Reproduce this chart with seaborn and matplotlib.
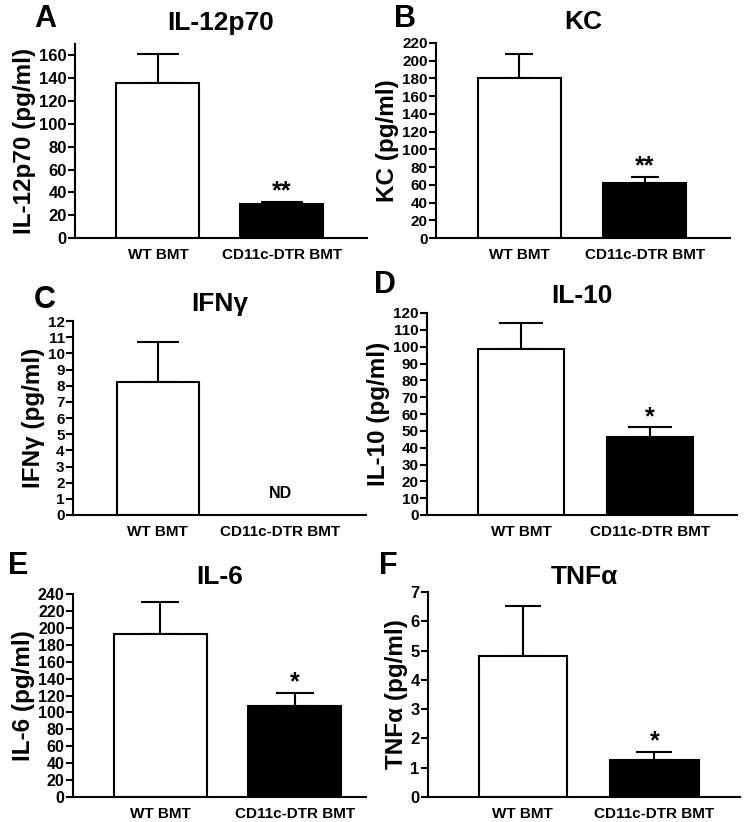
import matplotlib
matplotlib.use("Agg")
import matplotlib.pyplot as plt
import seaborn as sns

sns.set_style("ticks")
plt.rcParams["font.family"] = ["Liberation Sans", "DejaVu Sans"]
plt.rcParams["font.weight"] = "bold"
plt.rcParams["axes.labelweight"] = "bold"
plt.rcParams["axes.titleweight"] = "bold"
for key in ["text.color", "axes.labelcolor", "xtick.color", "ytick.color",
            "axes.edgecolor"]:
    plt.rcParams[key] = "black"

# ---- data (mean and SEM) ----
groups = ["WT BMT", "CD11c-DTR BMT"]
titles = ["IL-12p70", "KC", "IFNγ", "IL-10", "IL-6", "TNFα"]
ylabels = ["IL-12p70 (pg/ml)", "KC (pg/ml)", "IFNγ (pg/ml)",
           "IL-10 (pg/ml)", "IL-6 (pg/ml)", "TNFα (pg/ml)"]
letters = ["A", "B", "C", "D", "E", "F"]

il12_mean = [136, 30]
il12_sem = [25, 1.5]
kc_mean = [180, 62]
kc_sem = [28, 7]
ifng_mean = [8.2, 0]
ifng_sem = [2.5, 0]
il10_mean = [98.5, 46.5]
il10_sem = [15.5, 5.5]
il6_mean = [193, 107]
il6_sem = [38, 16]
tnfa_mean = [4.8, 1.25]
tnfa_sem = [1.72, 0.3]

means = [il12_mean, kc_mean, ifng_mean, il10_mean, il6_mean, tnfa_mean]
sems = [il12_sem, kc_sem, ifng_sem, il10_sem, il6_sem, tnfa_sem]
marks = [["", "**"], ["", "**"], ["", "ND"], ["", "*"], ["", "*"], ["", "*"]]

ytop = [170, 220, 12, 120, 240, 7]
ystep = [20, 20, 1, 10, 20, 1]

# ---- layout (pixels in a 750x822 canvas) ----
W, H = 750, 822
boxes = [(75, 367, 44, 238), (436, 730, 43, 238),
         (73, 366, 321, 515), (427, 737, 313, 515),
         (73, 366, 594, 797), (428, 740, 592, 797)]
xlims = [(-0.67, 1.69), (-0.665, 1.68), (-0.69, 1.70),
         (-0.735, 1.68), (-0.65, 1.53), (-0.72, 1.65)]
bar_w = [0.67, 0.665, 0.67, 0.67, 0.69, 0.67]
caps = [15, 10, 15, 16, 14, 13]
tick_fs = [12, 11, 11, 11, 11.5, 12]
title_pad = [10, 10, 7, 7, 7, 6]
letter_pos = [(34, 4), (394, 4), (34, 285), (374, 270), (8, 551), (379, 551)]

fig = plt.figure(figsize=(W / 100, H / 100), dpi=100)

for k in range(6):
    l, r, t, b = boxes[k]
    ax = fig.add_axes([l / W, 1 - b / H, (r - l) / W, (b - t) / H])
    sns.barplot(x=groups, y=means[k], hue=groups, palette=["white", "black"],
                legend=False, edgecolor="black", linewidth=1.5,
                width=bar_w[k], errorbar=None, ax=ax, zorder=2)
    xs = [i for i in range(2) if sems[k][i] > 0]
    ax.errorbar(xs, [means[k][i] for i in xs],
                yerr=[[0] * len(xs), [sems[k][i] for i in xs]],
                fmt="none", ecolor="black", elinewidth=1.5,
                capsize=caps[k], capthick=1.5, zorder=1)

    for i, m in enumerate(marks[k]):
        if not m:
            continue
        if m == "ND":
            ax.annotate(m, (i, 0), xytext=(0, 10), textcoords="offset points",
                        ha="center", va="bottom", fontsize=11.5, fontweight="bold")
        else:
            ax.annotate(m, (i, means[k][i] + sems[k][i]), xytext=(0, -1),
                        textcoords="offset points", ha="center", va="bottom",
                        fontsize=18, fontweight="bold")

    ax.set_xlim(*xlims[k])
    ax.set_ylim(0, ytop[k])
    n = int(round(ytop[k] / ystep[k]))
    ticks = [j * ystep[k] for j in range(n + 1) if j * ystep[k] <= ytop[k]]
    ax.set_yticks(ticks)
    ax.set_yticklabels([str(v) for v in ticks])
    ax.tick_params(axis="y", length=5, width=1.5, labelsize=tick_fs[k], pad=1)
    ax.tick_params(axis="x", length=0, labelsize=11, pad=7)
    for lab in ax.get_xticklabels() + ax.get_yticklabels():
        lab.set_fontweight("bold")
    sns.despine(ax=ax)
    for s in ["left", "bottom"]:
        ax.spines[s].set_linewidth(1.5)
    ax.set_ylabel(ylabels[k], fontsize=17.5, labelpad=2)
    ax.set_title(titles[k], fontsize=19, pad=title_pad[k])
    lx, ly = letter_pos[k]
    fig.text(lx / W, 1 - ly / H, letters[k], fontsize=22, fontweight="bold",
             ha="left", va="top")

fig.savefig("out.png", dpi=100)
